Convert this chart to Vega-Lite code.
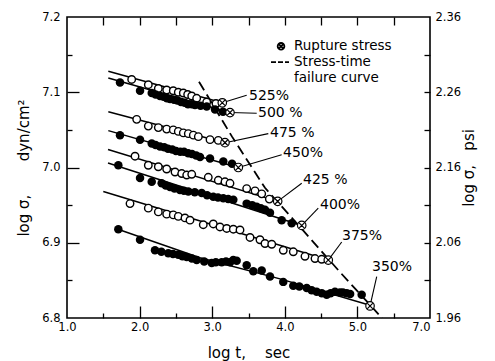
{
  "$schema": "https://vega.github.io/schema/vega-lite/v6.json",
  "width": 363,
  "height": 301,
  "autosize": {"type": "none"},
  "padding": {"left": 67, "top": 17, "right": 65, "bottom": 43},
  "background": "white",
  "config": {
    "view": {"stroke": "black", "strokeWidth": 1.6},
    "axis": {"domain": false, "grid": false, "labelFont": "DejaVu Sans", "labelFontSize": 11.5, "labelColor": "black", "titleFont": "DejaVu Sans", "titleFontSize": 15, "titleFontWeight": "normal", "titleColor": "black", "tickColor": "black", "tickWidth": 1.3}
  },
  "datasets": {
    "pts": [
      {"s": "525", "k": "open", "x": 1.891, "y": 7.117}, {"s": "525", "k": "open", "x": 2.120, "y": 7.110}, {"s": "525", "k": "open", "x": 2.258, "y": 7.105}, {"s": "525", "k": "open", "x": 2.373, "y": 7.103}, {"s": "525", "k": "open", "x": 2.464, "y": 7.102}, {"s": "525", "k": "open", "x": 2.533, "y": 7.100}, {"s": "525", "k": "open", "x": 2.602, "y": 7.099}, {"s": "525", "k": "open", "x": 2.662, "y": 7.097}, {"s": "525", "k": "open", "x": 2.718, "y": 7.095}, {"s": "525", "k": "open", "x": 2.786, "y": 7.092}, {"s": "525", "k": "open", "x": 2.924, "y": 7.087}, {"s": "525", "k": "open", "x": 3.052, "y": 7.085},
      {"s": "500", "k": "filled", "x": 1.730, "y": 7.113}, {"s": "500", "k": "filled", "x": 2.006, "y": 7.102}, {"s": "500", "k": "filled", "x": 2.167, "y": 7.099}, {"s": "500", "k": "filled", "x": 2.220, "y": 7.097}, {"s": "500", "k": "filled", "x": 2.281, "y": 7.095}, {"s": "500", "k": "filled", "x": 2.330, "y": 7.094}, {"s": "500", "k": "filled", "x": 2.377, "y": 7.092}, {"s": "500", "k": "filled", "x": 2.420, "y": 7.091}, {"s": "500", "k": "filled", "x": 2.474, "y": 7.090}, {"s": "500", "k": "filled", "x": 2.520, "y": 7.089}, {"s": "500", "k": "filled", "x": 2.570, "y": 7.087}, {"s": "500", "k": "filled", "x": 2.620, "y": 7.086}, {"s": "500", "k": "filled", "x": 2.667, "y": 7.084}, {"s": "500", "k": "filled", "x": 2.720, "y": 7.084}, {"s": "500", "k": "filled", "x": 2.763, "y": 7.083}, {"s": "500", "k": "filled", "x": 2.840, "y": 7.082}, {"s": "500", "k": "filled", "x": 2.924, "y": 7.081}, {"s": "500", "k": "filled", "x": 3.039, "y": 7.077}, {"s": "500", "k": "filled", "x": 3.149, "y": 7.074},
      {"s": "475", "k": "open", "x": 1.960, "y": 7.064}, {"s": "475", "k": "open", "x": 2.120, "y": 7.055}, {"s": "475", "k": "open", "x": 2.258, "y": 7.053}, {"s": "475", "k": "open", "x": 2.373, "y": 7.051}, {"s": "475", "k": "open", "x": 2.464, "y": 7.050}, {"s": "475", "k": "open", "x": 2.533, "y": 7.048}, {"s": "475", "k": "open", "x": 2.602, "y": 7.046}, {"s": "475", "k": "open", "x": 2.671, "y": 7.045}, {"s": "475", "k": "open", "x": 2.740, "y": 7.043}, {"s": "475", "k": "open", "x": 2.809, "y": 7.041}, {"s": "475", "k": "open", "x": 2.970, "y": 7.037}, {"s": "475", "k": "open", "x": 3.084, "y": 7.036},
      {"s": "450", "k": "filled", "x": 1.730, "y": 7.043}, {"s": "450", "k": "filled", "x": 2.006, "y": 7.037}, {"s": "450", "k": "filled", "x": 2.167, "y": 7.032}, {"s": "450", "k": "filled", "x": 2.220, "y": 7.030}, {"s": "450", "k": "filled", "x": 2.281, "y": 7.028}, {"s": "450", "k": "filled", "x": 2.340, "y": 7.027}, {"s": "450", "k": "filled", "x": 2.391, "y": 7.025}, {"s": "450", "k": "filled", "x": 2.450, "y": 7.024}, {"s": "450", "k": "filled", "x": 2.501, "y": 7.022}, {"s": "450", "k": "filled", "x": 2.560, "y": 7.021}, {"s": "450", "k": "filled", "x": 2.612, "y": 7.021}, {"s": "450", "k": "filled", "x": 2.670, "y": 7.019}, {"s": "450", "k": "filled", "x": 2.722, "y": 7.018}, {"s": "450", "k": "filled", "x": 2.780, "y": 7.016}, {"s": "450", "k": "filled", "x": 2.832, "y": 7.014}, {"s": "450", "k": "filled", "x": 2.970, "y": 7.012}, {"s": "450", "k": "filled", "x": 3.153, "y": 7.008}, {"s": "450", "k": "filled", "x": 3.273, "y": 7.005},
      {"s": "425", "k": "open", "x": 1.937, "y": 7.015}, {"s": "425", "k": "open", "x": 2.120, "y": 7.003}, {"s": "425", "k": "open", "x": 2.258, "y": 7.001}, {"s": "425", "k": "open", "x": 2.373, "y": 6.998}, {"s": "425", "k": "open", "x": 2.488, "y": 6.994}, {"s": "425", "k": "open", "x": 2.580, "y": 6.992}, {"s": "425", "k": "open", "x": 2.649, "y": 6.990}, {"s": "425", "k": "open", "x": 2.718, "y": 6.991}, {"s": "425", "k": "open", "x": 2.946, "y": 6.987}, {"s": "425", "k": "open", "x": 3.084, "y": 6.983}, {"s": "425", "k": "open", "x": 3.176, "y": 6.981}, {"s": "425", "k": "open", "x": 3.245, "y": 6.979}, {"s": "425", "k": "open", "x": 3.475, "y": 6.972}, {"s": "425", "k": "open", "x": 3.590, "y": 6.969}, {"s": "425", "k": "open", "x": 3.682, "y": 6.965}, {"s": "425", "k": "open", "x": 3.787, "y": 6.958},
      {"s": "400", "k": "filled", "x": 1.707, "y": 7.003}, {"s": "400", "k": "filled", "x": 2.006, "y": 6.986}, {"s": "400", "k": "filled", "x": 2.167, "y": 6.981}, {"s": "400", "k": "filled", "x": 2.304, "y": 6.979}, {"s": "400", "k": "filled", "x": 2.360, "y": 6.976}, {"s": "400", "k": "filled", "x": 2.419, "y": 6.974}, {"s": "400", "k": "filled", "x": 2.480, "y": 6.972}, {"s": "400", "k": "filled", "x": 2.556, "y": 6.970}, {"s": "400", "k": "filled", "x": 2.610, "y": 6.969}, {"s": "400", "k": "filled", "x": 2.671, "y": 6.968}, {"s": "400", "k": "filled", "x": 2.760, "y": 6.967}, {"s": "400", "k": "filled", "x": 2.855, "y": 6.966}, {"s": "400", "k": "filled", "x": 2.930, "y": 6.963}, {"s": "400", "k": "filled", "x": 3.015, "y": 6.961}, {"s": "400", "k": "filled", "x": 3.080, "y": 6.960}, {"s": "400", "k": "filled", "x": 3.153, "y": 6.959}, {"s": "400", "k": "filled", "x": 3.220, "y": 6.958}, {"s": "400", "k": "filled", "x": 3.291, "y": 6.957}, {"s": "400", "k": "filled", "x": 3.475, "y": 6.952}, {"s": "400", "k": "filled", "x": 3.550, "y": 6.950}, {"s": "400", "k": "filled", "x": 3.613, "y": 6.948}, {"s": "400", "k": "filled", "x": 3.670, "y": 6.946}, {"s": "400", "k": "filled", "x": 3.727, "y": 6.944}, {"s": "400", "k": "filled", "x": 3.796, "y": 6.940}, {"s": "400", "k": "filled", "x": 3.957, "y": 6.930}, {"s": "400", "k": "filled", "x": 4.095, "y": 6.926},
      {"s": "375", "k": "open", "x": 1.868, "y": 6.952}, {"s": "375", "k": "open", "x": 2.120, "y": 6.946}, {"s": "375", "k": "open", "x": 2.258, "y": 6.941}, {"s": "375", "k": "open", "x": 2.373, "y": 6.938}, {"s": "375", "k": "open", "x": 2.464, "y": 6.937}, {"s": "375", "k": "open", "x": 2.533, "y": 6.935}, {"s": "375", "k": "open", "x": 2.625, "y": 6.933}, {"s": "375", "k": "open", "x": 2.694, "y": 6.930}, {"s": "375", "k": "open", "x": 2.877, "y": 6.924}, {"s": "375", "k": "open", "x": 3.015, "y": 6.925}, {"s": "375", "k": "open", "x": 3.107, "y": 6.921}, {"s": "375", "k": "open", "x": 3.200, "y": 6.919}, {"s": "375", "k": "open", "x": 3.291, "y": 6.918}, {"s": "375", "k": "open", "x": 3.383, "y": 6.917}, {"s": "375", "k": "open", "x": 3.521, "y": 6.907}, {"s": "375", "k": "open", "x": 3.658, "y": 6.904}, {"s": "375", "k": "open", "x": 3.727, "y": 6.899}, {"s": "375", "k": "open", "x": 3.820, "y": 6.898}, {"s": "375", "k": "open", "x": 3.979, "y": 6.890}, {"s": "375", "k": "open", "x": 4.117, "y": 6.888}, {"s": "375", "k": "open", "x": 4.278, "y": 6.882}, {"s": "375", "k": "open", "x": 4.416, "y": 6.879}, {"s": "375", "k": "open", "x": 4.508, "y": 6.878},
      {"s": "350", "k": "filled", "x": 1.707, "y": 6.918}, {"s": "350", "k": "filled", "x": 2.006, "y": 6.904}, {"s": "350", "k": "filled", "x": 2.212, "y": 6.890}, {"s": "350", "k": "filled", "x": 2.300, "y": 6.888}, {"s": "350", "k": "filled", "x": 2.395, "y": 6.886}, {"s": "350", "k": "filled", "x": 2.460, "y": 6.885}, {"s": "350", "k": "filled", "x": 2.533, "y": 6.884}, {"s": "350", "k": "filled", "x": 2.590, "y": 6.882}, {"s": "350", "k": "filled", "x": 2.649, "y": 6.881}, {"s": "350", "k": "filled", "x": 2.720, "y": 6.879}, {"s": "350", "k": "filled", "x": 2.786, "y": 6.877}, {"s": "350", "k": "filled", "x": 2.890, "y": 6.875}, {"s": "350", "k": "filled", "x": 2.993, "y": 6.873}, {"s": "350", "k": "filled", "x": 3.050, "y": 6.874}, {"s": "350", "k": "filled", "x": 3.131, "y": 6.874}, {"s": "350", "k": "filled", "x": 3.190, "y": 6.875}, {"s": "350", "k": "filled", "x": 3.245, "y": 6.874}, {"s": "350", "k": "filled", "x": 3.290, "y": 6.877}, {"s": "350", "k": "filled", "x": 3.337, "y": 6.876}, {"s": "350", "k": "filled", "x": 3.475, "y": 6.870}, {"s": "350", "k": "filled", "x": 3.566, "y": 6.862}, {"s": "350", "k": "filled", "x": 3.682, "y": 6.863}, {"s": "350", "k": "filled", "x": 3.796, "y": 6.855}, {"s": "350", "k": "filled", "x": 3.979, "y": 6.848}, {"s": "350", "k": "filled", "x": 4.117, "y": 6.843}, {"s": "350", "k": "filled", "x": 4.200, "y": 6.842}, {"s": "350", "k": "filled", "x": 4.302, "y": 6.840}, {"s": "350", "k": "filled", "x": 4.370, "y": 6.837}, {"s": "350", "k": "filled", "x": 4.439, "y": 6.835}, {"s": "350", "k": "filled", "x": 4.510, "y": 6.833}, {"s": "350", "k": "filled", "x": 4.577, "y": 6.831}, {"s": "350", "k": "filled", "x": 4.630, "y": 6.833}, {"s": "350", "k": "filled", "x": 4.691, "y": 6.835}, {"s": "350", "k": "filled", "x": 4.760, "y": 6.834}, {"s": "350", "k": "filled", "x": 4.800, "y": 6.834}, {"s": "350", "k": "filled", "x": 4.853, "y": 6.833}, {"s": "350", "k": "filled", "x": 4.900, "y": 6.832}, {"s": "350", "k": "filled", "x": 5.059, "y": 6.831}
    ],
    "fits": [
      {"s": "525", "x": 1.569, "y": 7.128}, {"s": "525", "x": 3.139, "y": 7.086},
      {"s": "500", "x": 1.569, "y": 7.119}, {"s": "500", "x": 3.245, "y": 7.073},
      {"s": "475", "x": 1.569, "y": 7.074}, {"s": "475", "x": 3.176, "y": 7.033},
      {"s": "450", "x": 1.569, "y": 7.049}, {"s": "450", "x": 3.360, "y": 7.000},
      {"s": "425", "x": 1.565, "y": 7.024}, {"s": "425", "x": 3.902, "y": 6.955},
      {"s": "400", "x": 1.565, "y": 7.006}, {"s": "400", "x": 4.233, "y": 6.923},
      {"s": "375", "x": 1.500, "y": 6.968}, {"s": "375", "x": 4.599, "y": 6.877},
      {"s": "350", "x": 1.702, "y": 6.918}, {"s": "350", "x": 2.832, "y": 6.880}, {"s": "350", "x": 3.934, "y": 6.852}, {"s": "350", "x": 5.174, "y": 6.817}
    ],
    "rupture": [
      {"label": "525%", "x": 3.139, "y": 7.086, "x2": 3.475, "y2": 7.096, "lx": 3.507, "ly": 7.095},
      {"label": "500 %", "x": 3.245, "y": 7.073, "x2": 3.613, "y2": 7.072, "lx": 3.631, "ly": 7.072},
      {"label": "475 %", "x": 3.176, "y": 7.033, "x2": 3.773, "y2": 7.045, "lx": 3.796, "ly": 7.046},
      {"label": "450%", "x": 3.360, "y": 7.000, "x2": 3.957, "y2": 7.017, "lx": 3.975, "ly": 7.019},
      {"label": "425 %", "x": 3.902, "y": 6.955, "x2": 4.233, "y2": 6.979, "lx": 4.251, "ly": 6.983},
      {"label": "400%", "x": 4.233, "y": 6.923, "x2": 4.461, "y2": 6.946, "lx": 4.485, "ly": 6.950},
      {"label": "375%", "x": 4.599, "y": 6.877, "x2": 4.784, "y2": 6.901, "lx": 4.788, "ly": 6.909},
      {"label": "350%", "x": 5.174, "y": 6.816, "x2": 5.266, "y2": 6.855, "lx": 5.201, "ly": 6.868}
    ],
    "failure": [
      {"x": 2.818, "y": 7.114}, {"x": 3.273, "y": 7.041}, {"x": 3.727, "y": 6.973}, {"x": 4.237, "y": 6.918}, {"x": 4.760, "y": 6.861}, {"x": 5.339, "y": 6.800}
    ],
    "legtext": [
      {"t": "Rupture stress", "x": 4.127, "y": 7.161},
      {"t": "Stress-time", "x": 4.127, "y": 7.140},
      {"t": "failure curve", "x": 4.127, "y": 7.119}
    ],
    "legsym": [{"x": 3.948, "y": 7.161}],
    "legdash": [{"x": 3.810, "x2": 4.058, "y": 7.140}]
  },
  "resolve": {"axis": {"x": "independent", "y": "independent"}},
  "layer": [
    {
      "data": {"name": "fits"},
      "mark": {"type": "line", "color": "black", "strokeWidth": 1.5},
      "encoding": {
        "detail": {"field": "s"},
        "x": {"field": "x", "type": "quantitative", "scale": {"domain": [1, 6], "nice": false, "zero": false},
          "axis": {"orient": "bottom", "values": [1, 2, 3, 4, 5, 6], "ticks": false, "labelPadding": 3,
            "labelExpr": "datum.value == 6 ? '7.0' : format(datum.value, '.1f')",
            "labelAlign": {"condition": {"test": "datum.value == 6", "value": "right"}, "value": "center"},
            "title": "log t,\u00a0\u00a0\u00a0\u00a0sec", "titlePadding": 13}},
        "y": {"field": "y", "type": "quantitative", "scale": {"domain": [6.8, 7.2], "nice": false, "zero": false},
          "axis": {"orient": "left", "values": [6.8, 6.9, 7.0, 7.1, 7.2], "ticks": false, "labelPadding": 7, "format": ".1f",
            "title": "log σ,\u00a0\u00a0\u00a0\u00a0\u00a0\u00a0\u00a0dyn/cm²", "titlePadding": 10}}
      }
    },
    {
      "data": {"name": "rupture"},
      "mark": {"type": "rule", "color": "black", "strokeWidth": 1.1},
      "encoding": {
        "x": {"field": "x", "type": "quantitative", "scale": {"domain": [1, 6], "nice": false, "zero": false},
          "axis": {"orient": "bottom", "offset": -12, "tickSize": 12, "values": [2, 3, 4, 5], "labels": false, "title": null}},
        "y": {"field": "y", "type": "quantitative", "scale": {"domain": [6.8, 7.2], "nice": false, "zero": false},
          "axis": {"orient": "left", "offset": -12, "tickSize": 12, "values": [6.9, 7.0, 7.1], "labels": false, "title": null}},
        "x2": {"field": "x2"},
        "y2": {"field": "y2"}
      }
    },
    {
      "data": {"name": "failure"},
      "mark": {"type": "line", "color": "black", "strokeWidth": 1.8, "strokeDash": [10, 5]},
      "encoding": {
        "x": {"field": "x", "type": "quantitative", "scale": {"domain": [1, 6], "nice": false, "zero": false},
          "axis": {"orient": "bottom", "offset": -5, "tickSize": 5, "values": [1.5, 2.5, 3.5, 4.5, 5.5], "labels": false, "title": null}},
        "y": {"field": "y", "type": "quantitative", "scale": {"domain": [6.8, 7.2], "nice": false, "zero": false},
          "axis": {"orient": "left", "offset": -5, "tickSize": 5, "values": [6.85, 6.95, 7.05, 7.15], "labels": false, "title": null}}
      }
    },
    {
      "data": {"name": "pts"},
      "transform": [{"filter": "datum.k == 'open'"}],
      "mark": {"type": "point", "shape": "circle", "filled": true, "fill": "white", "stroke": "black", "strokeWidth": 1.4, "size": 56, "opacity": 1},
      "encoding": {
        "x": {"field": "x", "type": "quantitative", "scale": {"domain": [1, 6], "nice": false, "zero": false},
          "axis": {"orient": "top", "offset": -8, "tickSize": 8, "values": [1.5, 2, 2.5, 3, 3.5, 4, 4.5, 5, 5.5], "labels": false, "title": null}},
        "y": {"field": "y", "type": "quantitative", "scale": {"domain": [6.8, 7.2], "nice": false, "zero": false},
          "axis": {"orient": "right", "values": [6.8, 6.9, 7.0, 7.1, 7.2], "ticks": false, "labelPadding": 5,
            "labelExpr": "format(datum.value - 4.84, '.2f')",
            "title": "log σ,\u00a0\u00a0\u00a0psi", "titleAngle": 270, "titlePadding": 16}}
      }
    },
    {
      "data": {"name": "pts"},
      "transform": [{"filter": "datum.k == 'filled'"}],
      "mark": {"type": "point", "shape": "circle", "filled": true, "fill": "black", "size": 72, "opacity": 1},
      "encoding": {
        "x": {"field": "x", "type": "quantitative", "scale": {"domain": [1, 6], "nice": false, "zero": false}, "axis": null},
        "y": {"field": "y", "type": "quantitative", "scale": {"domain": [6.8, 7.2], "nice": false, "zero": false},
          "axis": {"orient": "right", "offset": -6, "tickSize": 6, "values": [6.85, 6.9, 6.95, 7.0, 7.05, 7.1, 7.15], "labels": false, "title": null}}
      }
    },
    {
      "data": {"name": "rupture"},
      "mark": {"type": "point", "shape": "M1,0A1,1,0,1,1,-1,0A1,1,0,1,1,1,0ZM-0.62,-0.62L0.62,0.62M-0.62,0.62L0.62,-0.62", "filled": true, "fill": "white", "stroke": "black", "strokeWidth": 1.2, "size": 72, "opacity": 1},
      "encoding": {
        "x": {"field": "x", "type": "quantitative", "scale": {"domain": [1, 6], "nice": false, "zero": false}, "axis": null},
        "y": {"field": "y", "type": "quantitative", "scale": {"domain": [6.8, 7.2], "nice": false, "zero": false}, "axis": null}
      }
    },
    {
      "data": {"name": "rupture"},
      "mark": {"type": "text", "align": "left", "baseline": "middle", "font": "DejaVu Sans", "fontSize": 14, "color": "black"},
      "encoding": {
        "x": {"field": "lx", "type": "quantitative", "scale": {"domain": [1, 6], "nice": false, "zero": false}, "axis": null},
        "y": {"field": "ly", "type": "quantitative", "scale": {"domain": [6.8, 7.2], "nice": false, "zero": false}, "axis": null},
        "text": {"field": "label"}
      }
    },
    {
      "data": {"name": "legsym"},
      "mark": {"type": "point", "shape": "M1,0A1,1,0,1,1,-1,0A1,1,0,1,1,1,0ZM-0.62,-0.62L0.62,0.62M-0.62,0.62L0.62,-0.62", "filled": true, "fill": "white", "stroke": "black", "strokeWidth": 1.8, "size": 45, "opacity": 1},
      "encoding": {
        "x": {"field": "x", "type": "quantitative", "scale": {"domain": [1, 6], "nice": false, "zero": false}, "axis": null},
        "y": {"field": "y", "type": "quantitative", "scale": {"domain": [6.8, 7.2], "nice": false, "zero": false}, "axis": null}
      }
    },
    {
      "data": {"name": "legdash"},
      "mark": {"type": "rule", "color": "black", "strokeWidth": 1.6, "strokeDash": [5, 2]},
      "encoding": {
        "x": {"field": "x", "type": "quantitative", "scale": {"domain": [1, 6], "nice": false, "zero": false}, "axis": null},
        "x2": {"field": "x2"},
        "y": {"field": "y", "type": "quantitative", "scale": {"domain": [6.8, 7.2], "nice": false, "zero": false}, "axis": null}
      }
    },
    {
      "data": {"name": "legtext"},
      "mark": {"type": "text", "align": "left", "baseline": "middle", "font": "DejaVu Sans", "fontSize": 13.5, "color": "black"},
      "encoding": {
        "x": {"field": "x", "type": "quantitative", "scale": {"domain": [1, 6], "nice": false, "zero": false}, "axis": null},
        "y": {"field": "y", "type": "quantitative", "scale": {"domain": [6.8, 7.2], "nice": false, "zero": false}, "axis": null},
        "text": {"field": "t"}
      }
    }
  ]
}
